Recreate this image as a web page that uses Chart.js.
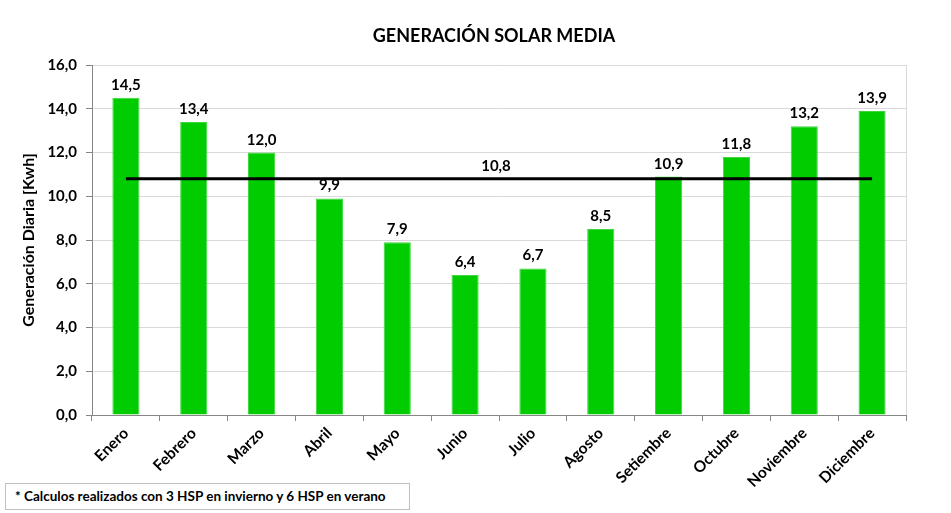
<!DOCTYPE html>
<html lang="es">
<head>
<meta charset="UTF-8">
<title>Generación solar media</title>
<script src="https://cdn.jsdelivr.net/npm/chart.js"></script>
<style>
    html, body { margin: 0; padding: 0; background: #fff; }
    .caja { position: relative; width: 951px; height: 513px; }
    .nota {
        position: absolute; left: 5px; top: 483px; width: 405px; height: 27px;
        border: 1px solid #bfbfbf; background: #fff; box-sizing: border-box;
        font: bold 13.5px Lato, sans-serif; line-height: 25px; padding-left: 9px;
    }
</style>
</head>
<body>
<div class="caja">
    <canvas id="grafico" width="951" height="513"></canvas>
    <div class="nota">* Calculos realizados con 3 HSP en invierno y 6 HSP en verano</div>
</div>

<script>
    // datos
    var meses = ['Enero', 'Febrero', 'Marzo', 'Abril', 'Mayo', 'Junio', 'Julio', 'Agosto',
        'Setiembre', 'Octubre', 'Noviembre', 'Diciembre'];
    var generacion = [14.5, 13.4, 12.0, 9.9, 7.9, 6.4, 6.7, 8.5, 10.9, 11.8, 13.2, 13.9];
    var promedio = [10.8, 10.8, 10.8, 10.8, 10.8, 10.8, 10.8, 10.8, 10.8, 10.8, 10.8, 10.8];
    var ticksY = [0, 2, 4, 6, 8, 10, 12, 14, 16];

    function coma(v) {
        return v.toFixed(1).replace('.', ',');
    }

    // titulo, borde del area y etiquetas de valores
    var extras = {
        id: 'extras',
        beforeDatasetsDraw: function (chart) {
            var ctx = chart.ctx, a = chart.chartArea;
            ctx.save();
            ctx.strokeStyle = '#d9d9d9';
            ctx.lineWidth = 1;
            ctx.beginPath();
            ctx.moveTo(a.right + 0.5, a.top);
            ctx.lineTo(a.right + 0.5, a.bottom);
            ctx.stroke();
            ctx.restore();
        },
        afterDatasetsDraw: function (chart) {
            var ctx = chart.ctx, a = chart.chartArea;
            ctx.save();
            ctx.fillStyle = '#000';
            ctx.textAlign = 'center';
            ctx.textBaseline = 'alphabetic';
            ctx.font = 'bold 18px Lato, sans-serif';
            ctx.fillText('GENERACIÓN SOLAR MEDIA', (a.left + a.right) / 2 - 5, 42);

            ctx.font = 'bold 15px Lato, sans-serif';
            var barras = chart.getDatasetMeta(0);
            barras.data.forEach(function (el, i) {
                ctx.fillText(coma(generacion[i]), el.x, el.y - 8);
            });
            var yProm = chart.scales.y.getPixelForValue(promedio[0]);
            ctx.fillText(coma(promedio[0]), (a.left + a.right) / 2 - 3, yProm - 8);
            ctx.restore();
        }
    };

    var ctx = document.getElementById('grafico').getContext('2d');
    var grafico = new Chart(ctx, {
        type: 'bar',
        data: {
            labels: meses,
            datasets: [
                {
                    label: 'Generación',
                    data: generacion,
                    backgroundColor: '#00cc00',
                    borderColor: '#3dd63d',
                    borderWidth: 1,
                    barPercentage: 0.4,
                    categoryPercentage: 1,
                    order: 1
                },
                {
                    type: 'line',
                    label: 'Promedio',
                    data: promedio,
                    borderColor: '#000',
                    borderWidth: 3,
                    pointRadius: 0,
                    fill: false,
                    order: 0
                }
            ]
        },
        options: {
            responsive: false,
            animation: false,
            layout: { padding: { top: 65, right: 45, left: 0, bottom: 0 } },
            plugins: {
                legend: { display: false },
                tooltip: { enabled: false },
                title: { display: false }
            },
            scales: {
                x: {
                    grid: {
                        display: true,
                        drawOnChartArea: false,
                        offset: true,
                        tickLength: 6,
                        color: '#868686'
                    },
                    border: { color: '#868686' },
                    ticks: {
                        color: '#000',
                        maxRotation: 45,
                        minRotation: 45,
                        font: { family: 'Lato, sans-serif', size: 15.5, weight: 'bold' }
                    },
                    afterFit: function (s) { s.height = 98; }
                },
                y: {
                    min: 0,
                    max: 16,
                    afterBuildTicks: function (s) {
                        s.ticks = ticksY.map(function (v) { return { value: v }; });
                    },
                    grid: {
                        color: '#d9d9d9',
                        tickLength: 6,
                        tickColor: '#868686'
                    },
                    border: { color: '#868686' },
                    ticks: {
                        color: '#000',
                        padding: 9,
                        font: { family: 'Lato, sans-serif', size: 15, weight: 'bold' },
                        callback: function (v) { return coma(v); }
                    },
                    title: {
                        display: true,
                        text: 'Generación Diaria [Kwh]',
                        color: '#000',
                        font: { family: 'Lato, sans-serif', size: 16, weight: 'bold' },
                        padding: { top: 19, bottom: 0 }
                    },
                    afterFit: function (s) { s.width = 92; }
                }
            }
        },
        plugins: [extras]
    });
</script>
</body>
</html>
